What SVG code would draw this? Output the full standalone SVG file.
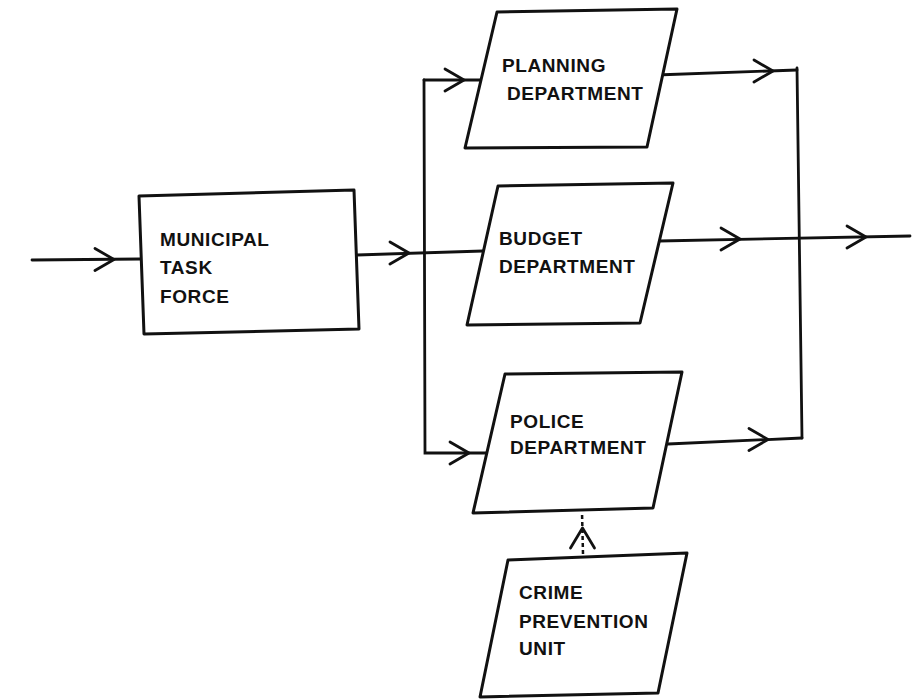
<svg xmlns="http://www.w3.org/2000/svg" xmlns:xlink="http://www.w3.org/1999/xlink" width="917" height="699" viewBox="0 0 917 699">
<style>
.box{fill:#fff;stroke:#111;stroke-width:3;stroke-linejoin:round}
.ln{fill:none;stroke:#111;stroke-width:2.8;stroke-linecap:round}
.dash{fill:none;stroke:#111;stroke-width:2.5;stroke-dasharray:4 3}
.lbl{font-family:"Liberation Sans",Arial,sans-serif;font-weight:bold;font-size:19px;letter-spacing:0.6px;fill:#111}
</style>
<defs>
<path id="chev" d="M -19 -11 L 0 0 L -19 11" fill="none" stroke="#111" stroke-width="2.8" stroke-linecap="round" stroke-linejoin="round"/>
<path id="chevUp" d="M -12 20 L 0 0 L 12 20" fill="none" stroke="#111" stroke-width="2.8" stroke-linecap="round" stroke-linejoin="round"/>
</defs>
<rect width="917" height="699" fill="#fff"/>
<g id="connectors">
<path class="ln" d="M 32 260 L 140 259"/>
<use xlink:href="#chev" x="114" y="259.5"/>
<path class="ln" d="M 357 255 L 483 251"/>
<use xlink:href="#chev" x="409" y="253"/>
<path class="ln" d="M 424 80 L 425 453 L 487 453"/>
<path class="ln" d="M 424 80 L 486 80"/>
<use xlink:href="#chev" x="464" y="80"/>
<use xlink:href="#chev" x="469" y="453"/>
<path class="ln" d="M 656 75 L 797 70"/>
<use xlink:href="#chev" x="773" y="71"/>
<path class="ln" d="M 797 68 L 802 438"/>
<path class="ln" d="M 659 241 L 910 236"/>
<use xlink:href="#chev" x="740" y="239"/>
<use xlink:href="#chev" x="866" y="237"/>
<path class="ln" d="M 668 444 L 802 438"/>
<use xlink:href="#chev" x="768" y="439.5"/>
<path class="dash" d="M 583 554 L 582 512"/>
<use xlink:href="#chevUp" x="582.5" y="528"/>
</g>
<g id="municipal">
<polygon class="box" points="139,196 354,190 359,329 144,334"/>
<text class="lbl" x="160" y="246">MUNICIPAL</text>
<text class="lbl" x="160" y="274">TASK</text>
<text class="lbl" x="160" y="303">FORCE</text>
</g>
<g id="planning">
<polygon class="box" points="497,12 677,9 647,147 465,148"/>
<text class="lbl" x="502" y="72">PLANNING</text>
<text class="lbl" x="507" y="100">DEPARTMENT</text>
</g>
<g id="budget">
<polygon class="box" points="498,186 673,183 640,323 467,325"/>
<text class="lbl" x="499" y="245">BUDGET</text>
<text class="lbl" x="499" y="273">DEPARTMENT</text>
</g>
<g id="police">
<polygon class="box" points="505,374 682,372 653,508 473,513"/>
<text class="lbl" x="510" y="428">POLICE</text>
<text class="lbl" x="510" y="454">DEPARTMENT</text>
</g>
<g id="crime">
<polygon class="box" points="508,560 687,553 658,693 480,697"/>
<text class="lbl" x="519" y="599">CRIME</text>
<text class="lbl" x="519" y="628">PREVENTION</text>
<text class="lbl" x="519" y="655">UNIT</text>
</g>
</svg>
